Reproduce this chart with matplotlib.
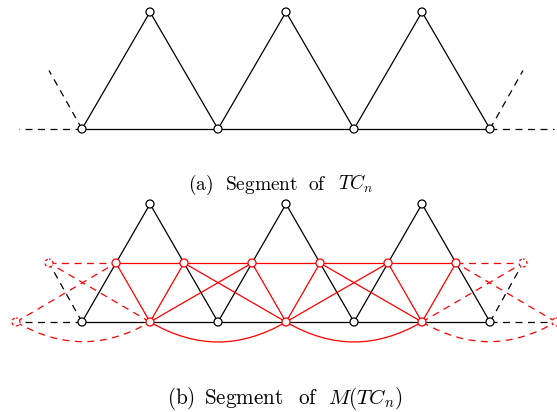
import numpy as np
import matplotlib.pyplot as plt
from matplotlib.patches import Circle, PathPatch
from matplotlib.path import Path

plt.rcParams['mathtext.fontset'] = 'cm'
plt.rcParams['lines.scale_dashes'] = False

W, H = 557, 412

# vertex positions of the triangular snake segment (pixel units)
base_x = [82, 218, 354, 490]
apex_x = [150, 286, 422]
ghost_base_x = [-50, 622]     # virtual neighbours outside the segment
ghost_apex_x = [16, 556]
a_top, a_base = 12, 129      # panel (a)
b_top, b_base = 204, 322     # panel (b)

# captions: words, left edges, baseline, size
cap_a_words = [r'$\mathrm{(a)}$', r'$\mathrm{Segment}$', r'$\mathrm{of}$', r'$TC_n$']
cap_a_x = [188, 225, 308, 338]
cap_b_words = [r'$\mathrm{(b)}$', r'$\mathrm{Segment}$', r'$\mathrm{of}$', r'$M(TC_n)$']
cap_b_x = [167, 204, 298, 328]
cap_baseline = [190, 404]
cap_size = [14, 15.2]

DASH = (0, (5, 4))
RED = '#ff0000'
LW = 0.9
R = 4


def node(ax, x, y, color='black', dashed=False):
    ax.add_patch(Circle((x, y), R, facecolor='white', edgecolor=color, lw=LW,
                        linestyle=(1, (2.2, 1.8)) if dashed else '-', zorder=5))


def bend_arc(ax, x0, x1, y, color, ls):
    d = 0.3915 * (x1 - x0)
    c, s = np.cos(np.radians(30)), np.sin(np.radians(30))
    verts = [(x0, y), (x0 + d * c, y + d * s), (x1 - d * c, y + d * s), (x1, y)]
    p = Path(verts, [Path.MOVETO, Path.CURVE4, Path.CURVE4, Path.CURVE4])
    ax.add_patch(PathPatch(p, facecolor='none', edgecolor=color, lw=LW,
                           linestyle=ls, zorder=2))


def black_tc(ax, top, base):
    mid = (top + base) / 2
    ax.plot([base_x[0], base_x[-1]], [base, base], color='black', lw=LW, zorder=1)
    for i, ax_x in enumerate(apex_x):
        ax.plot([base_x[i], ax_x, base_x[i + 1]], [base, top, base],
                color='black', lw=LW, zorder=1)
    # dashed half edges to the rest of the snake
    ax.plot([base_x[0], 19], [base, base], color='black', lw=LW, ls=DASH, zorder=1)
    ax.plot([base_x[-1], W - 3], [base, base], color='black', lw=LW, ls=DASH, zorder=1)
    ax.plot([base_x[0], (base_x[0] + ghost_apex_x[0]) / 2], [base, mid],
            color='black', lw=LW, ls=DASH, zorder=1)
    ax.plot([base_x[-1], (base_x[-1] + ghost_apex_x[1]) / 2], [base, mid],
            color='black', lw=LW, ls=DASH, zorder=1)


fig = plt.figure(figsize=(W / 100, H / 100), dpi=100)
ax = fig.add_axes([0, 0, 1, 1])
ax.set_xlim(0, W)
ax.set_ylim(H, 0)
ax.axis('off')

# ---- panel (a)
black_tc(ax, a_top, a_base)
for x in base_x:
    node(ax, x, a_base)
for x in apex_x:
    node(ax, x, a_top)

# ---- panel (b)
black_tc(ax, b_top, b_base)
b_mid = (b_top + b_base) / 2

# edge vertices of the middle graph: slanted-edge midpoints and base-edge midpoints
all_base = [ghost_base_x[0]] + base_x + [ghost_base_x[1]]
all_apex = [ghost_apex_x[0]] + apex_x + [ghost_apex_x[1]]
slant = []
for i, ap in enumerate(all_apex):
    slant.append((all_base[i] + ap) / 2)
    slant.append((ap + all_base[i + 1]) / 2)
# real = both endpoints inside the segment; keep one ghost on each side
slant = [(x, base_x[0] <= x <= base_x[-1]) for x in slant
         if base_x[0] - 70 < x < base_x[-1] + 70]
bmids = [((all_base[i] + all_base[i + 1]) / 2,
          base_x[0] <= all_base[i] and all_base[i + 1] <= base_x[-1])
         for i in range(len(all_base) - 1)]


def red_line(x0, y0, r0, x1, y1, r1):
    if not (r0 or r1):
        return
    ls = '-' if (r0 and r1) else DASH
    ax.plot([x0, x1], [y0, y1], color=RED, lw=LW, ls=ls, zorder=2)


# slanted edges sharing a vertex
for (x0, r0), (x1, r1) in zip(slant[:-1], slant[1:]):
    red_line(x0, b_mid, r0, x1, b_mid, r1)
# base edge with the slanted edges at its two end vertices
for i, (bx, br) in enumerate(bmids):
    left, right = all_base[i], all_base[i + 1]
    for sx, sr in slant:
        near_end = min(abs(sx - left), abs(sx - right))
        if near_end < 40:
            red_line(bx, b_base, br, sx, b_mid, sr)
# consecutive base edges
for (x0, r0), (x1, r1) in zip(bmids[:-1], bmids[1:]):
    if r0 or r1:
        bend_arc(ax, x0, x1, b_base, RED, '-' if (r0 and r1) else DASH)

for x in base_x:
    node(ax, x, b_base)
for x in apex_x:
    node(ax, x, b_top)
for x, r in slant:
    node(ax, x, b_mid, RED, dashed=not r)
for x, r in bmids:
    node(ax, x, b_base, RED, dashed=not r)

for words, xs, y, fs in zip([cap_a_words, cap_b_words], [cap_a_x, cap_b_x],
                            cap_baseline, cap_size):
    for w, x in zip(words, xs):
        ax.text(x, y, w, ha='left', va='baseline', fontsize=fs)

fig.savefig('out.png', dpi=100)
